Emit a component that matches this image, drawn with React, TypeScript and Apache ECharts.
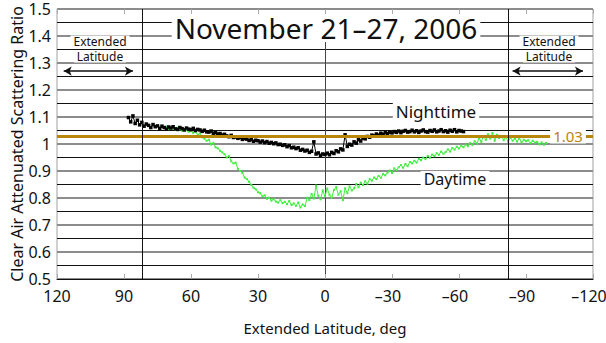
import React, { useEffect, useRef } from "react";
import * as echarts from "echarts";

// Nighttime series: latitudes from 88 down to -62 in 1 degree steps
const NIGHT_START_LAT = 88;
const NIGHT_VALUES = [
  1.098, 1.082, 1.104, 1.076, 1.088, 1.071, 1.080, 1.066, 1.074, 1.069,
  1.061, 1.072, 1.064, 1.067, 1.058, 1.066, 1.061, 1.055, 1.063, 1.059,
  1.064, 1.056, 1.054, 1.061, 1.057, 1.052, 1.059, 1.055, 1.053, 1.058,
  1.050, 1.054, 1.052, 1.047, 1.051, 1.045, 1.044, 1.048, 1.040, 1.042,
  1.037, 1.039, 1.033, 1.036, 1.030, 1.027, 1.032, 1.024, 1.026, 1.021,
  1.024, 1.017, 1.020, 1.018, 1.013, 1.016, 1.010, 1.014, 1.012, 1.007,
  1.011, 1.005, 1.009, 1.003, 1.006, 1.001, 1.004, 0.998, 0.999, 0.995,
  0.997, 0.990, 0.994, 0.986, 0.988, 0.983, 0.986, 0.977, 0.980, 0.974,
  0.977, 0.969, 0.973, 1.008, 0.963, 0.967, 0.958, 0.963, 0.961, 0.966,
  0.960, 0.969, 0.965, 0.975, 0.971, 0.982, 0.978, 1.034, 0.991, 0.999,
  0.996, 1.008, 1.003, 1.016, 1.011, 1.022, 1.019, 1.028, 1.025, 1.033,
  1.030, 1.037, 1.033, 1.040, 1.036, 1.042, 1.039, 1.044, 1.041, 1.046,
  1.043, 1.048, 1.042, 1.047, 1.050, 1.044, 1.046, 1.051, 1.045, 1.049,
  1.043, 1.048, 1.052, 1.046, 1.044, 1.050, 1.047, 1.052, 1.045, 1.048,
  1.053, 1.046, 1.049, 1.044, 1.051, 1.047, 1.053, 1.045, 1.050, 1.048,
  1.046,
];

// Daytime series: latitudes from 72 down to -99 in 1 degree steps
const DAY_START_LAT = 72;
const DAY_VALUES = [
  1.060, 1.064, 1.055, 1.061, 1.058, 1.052, 1.060, 1.054, 1.049, 1.056,
  1.051, 1.045, 1.050, 1.041, 1.046, 1.034, 1.040, 1.025, 1.020, 1.012,
  1.016, 0.998, 1.004, 0.988, 0.984, 0.975, 0.969, 0.962, 0.950, 0.955,
  0.936, 0.928, 0.931, 0.908, 0.900, 0.893, 0.876, 0.870, 0.860, 0.848,
  0.838, 0.832, 0.821, 0.818, 0.806, 0.810, 0.797, 0.801, 0.790, 0.796,
  0.787, 0.783, 0.792, 0.781, 0.786, 0.777, 0.789, 0.774, 0.780, 0.771,
  0.783, 0.765, 0.776, 0.770, 0.801, 0.792, 0.815, 0.798, 0.846, 0.808,
  0.795, 0.828, 0.806, 0.835, 0.812, 0.801, 0.830, 0.840, 0.812, 0.825,
  0.792, 0.836, 0.818, 0.843, 0.828, 0.836, 0.852, 0.840, 0.857, 0.848,
  0.862, 0.853, 0.870, 0.864, 0.876, 0.870, 0.882, 0.875, 0.889, 0.884,
  0.894, 0.902, 0.893, 0.910, 0.903, 0.914, 0.922, 0.912, 0.926, 0.918,
  0.933, 0.928, 0.938, 0.931, 0.945, 0.940, 0.950, 0.944, 0.956, 0.949,
  0.961, 0.955, 0.966, 0.960, 0.972, 0.964, 0.970, 0.980, 0.972, 0.985,
  0.979, 0.990, 0.983, 0.994, 0.988, 0.998, 0.992, 1.004, 0.996, 1.010,
  1.002, 1.022, 1.008, 1.030, 1.015, 1.036, 1.020, 1.041, 1.012, 1.034,
  1.022, 1.030, 1.014, 1.027, 1.008, 1.024, 1.012, 1.020, 1.009, 1.021,
  1.006, 1.016, 1.010, 1.014, 1.003, 1.012, 1.005, 1.008, 0.999, 1.006,
  0.997, 1.004,
];

const REFERENCE_LEVEL = 1.03;
const EXTENDED_BOUNDARIES = [82, -82];
const LEFT_ARROW = [117, 86];
const RIGHT_ARROW = [-84, -115.5];
const ARROW_LEVEL = 1.27;

const X_MIN = -120;
const X_MAX = 120;
const Y_MIN = 0.5;
const Y_MAX = 1.5;

const FONT = "'Noto Sans', 'DejaVu Sans', sans-serif";

function label(text: string, x: number, y: number, size: number, fill = "#111") {
  return {
    type: "text",
    z: 100,
    x,
    y,
    style: {
      text,
      font: `${size}px ${FONT}`,
      fill,
      align: "center",
      verticalAlign: "middle",
      backgroundColor: "#fff",
      padding: [0, 3],
    },
  };
}

export default function App() {
  const ref = useRef<HTMLDivElement>(null);

  useEffect(() => {
    if (!ref.current) return;
    const chart = echarts.init(ref.current, null, { renderer: "svg" });

    const night = NIGHT_VALUES.map((v, i) => [NIGHT_START_LAT - i, v]);
    const day = DAY_VALUES.map((v, i) => [DAY_START_LAT - i, v]);

    // digits centred on the tick, the minus sign hanging to the left
    const xFmt = (v: number) =>
      v < 0 ? "\u2013" + Math.abs(v) + "\u2002" : String(v);

    chart.setOption({
      animation: false,
      backgroundColor: "#fff",
      textStyle: { fontFamily: FONT },
      grid: {
        left: 57,
        right: 13,
        top: 9,
        bottom: 64,
        show: true,
        borderColor: "#a0a0a0",
        borderWidth: 1,
        backgroundColor: "#fff",
        containLabel: false,
        outerBoundsMode: "none",
      },
      xAxis: [
        {
          type: "value",
          inverse: true,
          min: X_MIN,
          max: X_MAX,
          interval: 30,
          axisLine: { show: true, lineStyle: { color: "#111", width: 1 } },
          axisTick: { show: true, inside: true, length: 5, lineStyle: { color: "#aaa" } },
          axisLabel: { formatter: xFmt, fontSize: 16, color: "#111", margin: 9, fontFamily: FONT },
          splitLine: { show: false },
          name: "Extended Latitude, deg",
          nameLocation: "middle",
          nameGap: 41,
          nameMoveOverlap: false,
          nameTextStyle: { fontSize: 15, color: "#111", fontFamily: FONT },
        },
        {
          type: "value",
          position: "top",
          inverse: true,
          min: X_MIN,
          max: X_MAX,
          interval: 30,
          axisLine: { show: false },
          axisTick: { show: true, inside: true, length: 5, lineStyle: { color: "#aaa" } },
          axisLabel: { show: false },
          splitLine: { show: false },
        },
      ],
      yAxis: [
        {
          type: "value",
          min: Y_MIN,
          max: Y_MAX,
          interval: 0.1,
          axisLine: { show: true, lineStyle: { color: "#444", width: 1 } },
          axisTick: { show: false },
          axisLabel: {
            fontSize: 16,
            color: "#111",
            margin: 6,
            fontFamily: FONT,
            formatter: (v: number) => String(+v.toFixed(1)),
          },
          splitLine: { show: true, lineStyle: { color: "#8c8c8c", width: 2 } },
          name: "Clear Air Attenuated Scattering Ratio",
          nameLocation: "middle",
          nameGap: 32,
          nameMoveOverlap: false,
          nameTextStyle: { fontSize: 16, color: "#111", fontFamily: FONT },
        },
        {
          type: "value",
          min: Y_MIN,
          max: Y_MAX,
          interval: 0.05,
          position: "left",
          axisLine: { show: false },
          axisTick: { show: false },
          axisLabel: { show: false },
          splitLine: { show: true, lineStyle: { color: ["rgba(0,0,0,0)", "#111"], width: 1 } },
        },
      ],
      series: [
        {
          name: "ref",
          type: "line",
          data: [],
          z: 1,
          markLine: {
            silent: true,
            symbol: "none",
            label: { show: false },
            lineStyle: { color: "#b8860b", width: 3, type: "solid" },
            data: [{ yAxis: REFERENCE_LEVEL }],
          },
        },
        {
          name: "Daytime",
          type: "line",
          data: day,
          z: 3,
          color: "#3cf03c",
          lineStyle: { color: "#3cf03c", width: 1 },
          symbol: "rect",
          symbolSize: 2,
          itemStyle: { color: "#3cf03c" },
        },
        {
          name: "Nighttime",
          type: "line",
          data: night,
          z: 4,
          color: "#000",
          lineStyle: { color: "#000", width: 1 },
          symbol: "rect",
          symbolSize: 3.5,
          itemStyle: { color: "#000" },
        },
        {
          name: "bounds",
          type: "line",
          data: [],
          z: 5,
          markLine: {
            silent: true,
            symbol: "none",
            label: { show: false },
            lineStyle: { color: "#111", width: 1, type: "solid" },
            data: EXTENDED_BOUNDARIES.map((b) => ({ xAxis: b })),
          },
        },
        {
          name: "arrows",
          type: "line",
          data: [],
          z: 6,
          markLine: {
            silent: true,
            symbol: ["arrow", "arrow"],
            symbolSize: [7, 8],
            label: { show: false },
            lineStyle: { color: "#111", width: 1.5, type: "solid" },
            data: [
              [{ coord: [LEFT_ARROW[0], ARROW_LEVEL] }, { coord: [LEFT_ARROW[1], ARROW_LEVEL] }],
              [{ coord: [RIGHT_ARROW[0], ARROW_LEVEL] }, { coord: [RIGHT_ARROW[1], ARROW_LEVEL] }],
            ],
          },
        },
      ],
      graphic: [
        label("November 21\u201327, 2006", 326, 28, 28),
        label("Extended", 100, 41.5, 12),
        label("Latitude", 100, 56.5, 12),
        label("Extended", 549, 41.5, 12),
        label("Latitude", 549, 56.5, 12),
        label("Nighttime", 436, 111, 17),
        label("Daytime", 455, 179, 16),
        label("1.03", 568, 136, 15, "#b8860b"),
      ],
    });

    return () => chart.dispose();
  }, []);

  return (
    <div
      ref={ref}
      style={{ position: "fixed", left: 0, top: 0, width: 606, height: 343 }}
    />
  );
}
